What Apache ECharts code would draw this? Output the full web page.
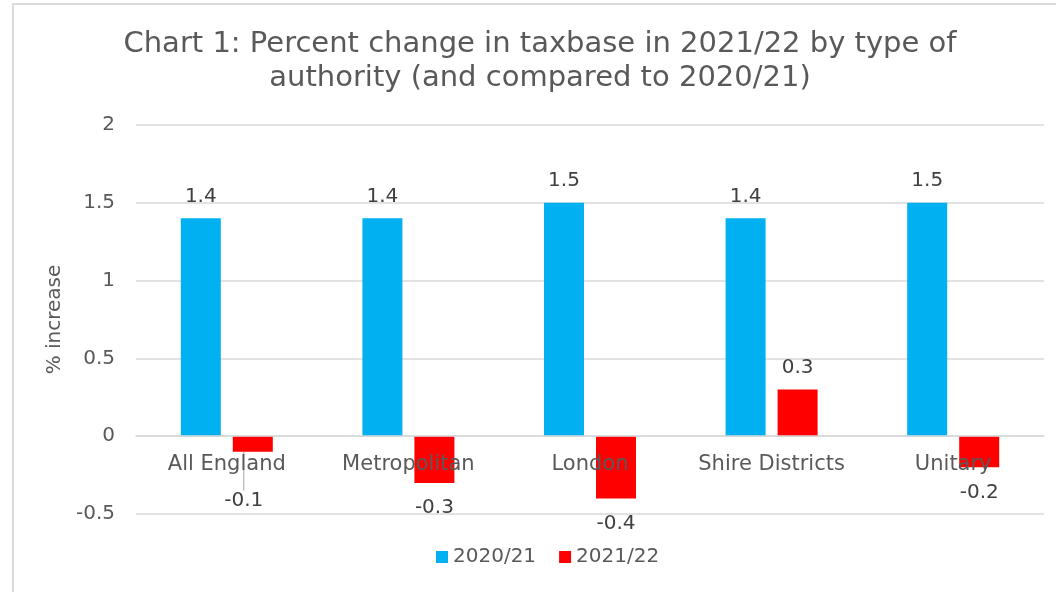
<!DOCTYPE html>
<html>
<head>
<meta charset="utf-8">
<script src="https://cdn.jsdelivr.net/npm/echarts@6/dist/echarts.min.js"></script>
<style>
html,body{margin:0;padding:0;background:#fff;overflow:hidden;}
#frame{position:absolute;left:12px;top:3px;width:1200px;height:700px;border-left:2px solid #d9d9d9;border-top:2px solid #d9d9d9;}
#chart{position:absolute;left:0;top:0;width:1056px;height:592px;}
</style>
</head>
<body>
<div id="frame"></div>
<div id="chart"></div>
<script>
const categories = ['All England', 'Metropolitan', 'London', 'Shire Districts', 'Unitary'];
const series2020_21 = [1.4, 1.4, 1.5, 1.4, 1.5];
const series2021_22 = [-0.1, -0.3, -0.4, 0.3, -0.2];
const seriesNames = ['2020/21', '2021/22'];
const titleText = 'Chart 1: Percent change in taxbase in 2021/22 by type of\nauthority (and compared to 2020/21)';
const yAxisName = '% increase';

const FONT = 'DejaVu Sans';
const chart = echarts.init(document.getElementById('chart'), null, {renderer: 'canvas'});

const redData = series2021_22.map((v, i) => {
  const item = {
    value: v,
    label: {position: v < 0 ? 'bottom' : 'top', distance: v < 0 ? 15 : 12}
  };
  if (i === 0) {
    item.labelLine = {show: true, lineStyle: {color: '#a6a6a6', width: 1}};
  }
  return item;
});

chart.setOption({
  backgroundColor: 'transparent',
  animation: false,
  title: {
    text: titleText,
    left: 535,
    textAlign: 'center',
    top: 22,
    textStyle: {fontFamily: FONT, fontSize: 29, fontWeight: 'normal', color: '#595959', lineHeight: 34}
  },
  legend: {
    data: seriesNames,
    left: 431,
    top: 542,
    icon: 'rect',
    itemWidth: 12,
    itemHeight: 12,
    itemGap: 23,
    textStyle: {fontFamily: FONT, fontSize: 20, color: '#595959'}
  },
  grid: {left: 136, right: 12, top: 125, bottom: 78, containLabel: false},
  xAxis: {
    type: 'category',
    data: categories,
    z: 5,
    axisLine: {show: true, onZero: true, lineStyle: {color: '#d9d9d9', width: 1.5}},
    axisTick: {show: false},
    axisLabel: {fontFamily: FONT, fontSize: 21, color: '#595959', margin: -60, interval: 0}
  },
  yAxis: {
    type: 'value',
    min: -0.5,
    max: 2,
    interval: 0.5,
    name: yAxisName,
    nameLocation: 'middle',
    nameGap: 68,
    nameTextStyle: {fontFamily: FONT, fontSize: 20, color: '#595959'},
    axisLine: {show: false},
    axisTick: {show: false},
    splitLine: {show: true, lineStyle: {color: '#d9d9d9', width: 1.5}},
    axisLabel: {fontFamily: FONT, fontSize: 20, color: '#595959', margin: 21}
  },
  series: [
    {
      name: seriesNames[0],
      type: 'bar',
      data: series2020_21,
      barWidth: 40,
      barGap: '30%',
      itemStyle: {color: '#00B0F0'},
      label: {show: true, position: 'top', distance: 12, fontFamily: FONT, fontSize: 20, color: '#404040'}
    },
    {
      name: seriesNames[1],
      type: 'bar',
      data: redData,
      barWidth: 40,
      barGap: '30%',
      itemStyle: {color: '#FF0000'},
      label: {show: true, fontFamily: FONT, fontSize: 20, color: '#404040'},
      labelLine: {show: false},
      labelLayout: function (params) {
        if (params.dataIndex === 0) {
          return {dx: -9, dy: 24};
        }
        return {};
      }
    }
  ]
});
</script>
</body>
</html>
